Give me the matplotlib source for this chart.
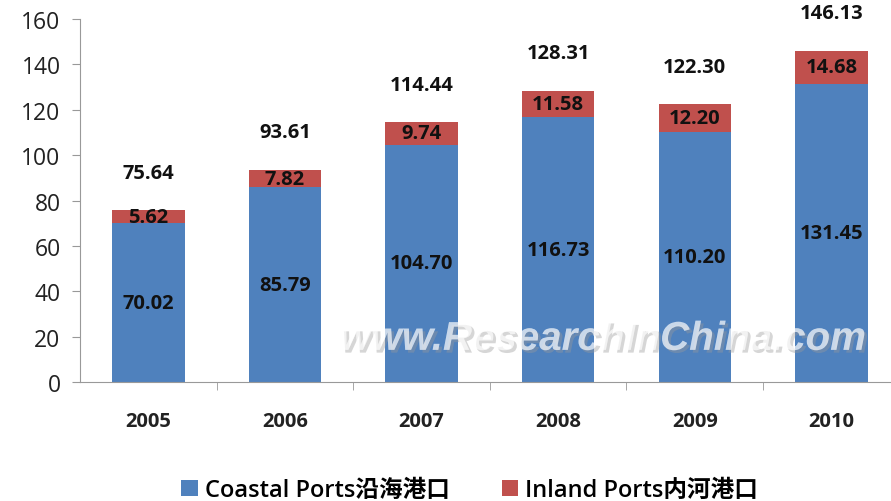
import matplotlib.pyplot as plt
import matplotlib.patheffects as pe
import numpy as np

years = ["2005", "2006", "2007", "2008", "2009", "2010"]
coastal = [70.02, 85.79, 104.70, 116.73, 110.20, 131.45]
inland = [5.62, 7.82, 9.74, 11.58, 12.20, 14.68]
totals = [75.64, 93.61, 114.44, 128.31, 122.30, 146.13]

BLUE = "#4F81BD"
RED = "#C0504D"
FONT = ["Open Sans", "Noto Sans CJK SC", "DejaVu Sans"]
plt.rcParams["font.family"] = FONT

fig = plt.figure(figsize=(8.91, 5.02), dpi=100)
ax = fig.add_axes([0.0898, 0.237, 0.92, 0.723])

x = np.arange(len(years))
w = 0.53
b1 = ax.bar(x, coastal, width=w, color=BLUE, label="Coastal Ports沿海港口")
b2 = ax.bar(x, inland, width=w, bottom=coastal, color=RED, label="Inland Ports内河港口")

lbl = dict(ha="center", va="center", fontsize=14.5, fontweight="bold", color="#111111")
for xi, c, i, t in zip(x, coastal, inland, totals):
    ax.text(xi, c / 2, f"{c:.2f}", **lbl)
    ax.text(xi, c + i / 2, f"{i:.2f}", **lbl)
    ax.annotate(f"{t:.2f}", (xi, t), xytext=(0, 27), textcoords="offset points", **lbl)

ax.set_xlim(-0.5, len(years) - 0.5)
ax.set_ylim(0, 160)
ax.set_yticks(np.arange(0, 161, 20))
ax.tick_params(axis="y", labelsize=16.5, length=6, color="#999999",
               labelcolor="#222222", pad=8)
ax.set_xticks(x)
ax.set_xticklabels(years, fontsize=14.5, fontweight="bold", color="#222222")
ax.tick_params(axis="x", length=0, pad=21)
ax.set_xticks(np.arange(0.5, len(years) - 0.5, 1), minor=True)
ax.tick_params(axis="x", which="minor", length=6, color="#999999")

for s in ["top", "right"]:
    ax.spines[s].set_visible(False)
for s in ["left", "bottom"]:
    ax.spines[s].set_color("#999999")

fig.text(0.676, 0.323, "www.ResearchInChina.com", ha="center", va="center",
         fontsize=29, style="italic", fontweight="bold", family="Liberation Sans",
         color="white", alpha=0.45,
         path_effects=[pe.withSimplePatchShadow(offset=(2, -2), shadow_rgbFace="#9a9a9a", alpha=0.4),
                       pe.Normal()])

fig.legend(handles=[b1, b2], loc="lower center", bbox_to_anchor=(0.527, -0.045),
           ncol=2, frameon=False, handlelength=0.7,
           handleheight=0.7, handletextpad=0.3, columnspacing=2.2,
           prop={"size": 17, "weight": "semibold"})

fig.savefig("out.png", dpi=100)
